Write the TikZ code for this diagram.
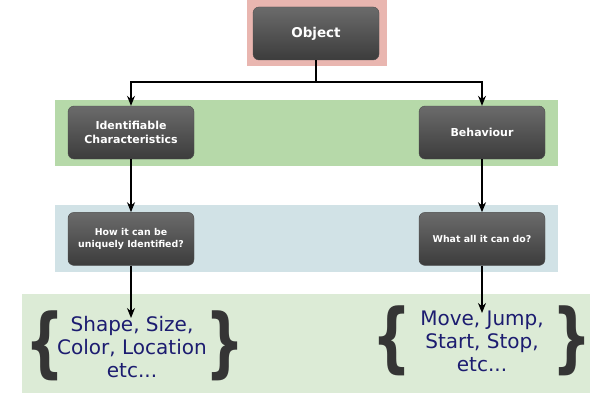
\documentclass[tikz,border=0pt]{standalone}
\usepackage{fontspec}
\setmainfont{DejaVu Sans}
\usetikzlibrary{positioning}
\usetikzlibrary{arrows.meta}

\definecolor{boxtop}{HTML}{6B6B6B}
\definecolor{boxbot}{HTML}{3C3C3C}
\definecolor{objband}{HTML}{E9B6B0}
\definecolor{chband}{HTML}{B6D9A9}
\definecolor{qband}{HTML}{D1E2E6}
\definecolor{listband}{HTML}{DCEBD6}
\definecolor{listtext}{HTML}{1C1C70}
\definecolor{bracecol}{HTML}{353535}

\tikzset{
  box/.style={rectangle,rounded corners=6pt,draw=gray!60!black,top color=boxtop,bottom color=boxbot,
    minimum width=126pt,minimum height=53pt,text=white,align=center,font=\bfseries\fontsize{11}{14}\selectfont},
  arr/.style={-{Stealth[length=10pt,width=8pt]},line width=1.2pt},
  list/.style={align=center,text=listtext,font=\fontsize{20}{23}\selectfont},
  brace/.style={inner sep=0pt,text=bracecol,font=\bfseries\fontsize{76}{76}\selectfont}
}

\begin{document}
\begin{tikzpicture}[x=1pt,y=-1pt]
\useasboundingbox (0,0) rectangle (600,404);
% bands
\fill[objband] (247,0) rectangle (387,66);
\fill[chband] (55,100) rectangle (558,166);
\fill[qband] (55,205) rectangle (558,272);
\fill[listband] (22,294) rectangle (590,393);

% boxes
\node[box,font=\bfseries\fontsize{13.5}{15}\selectfont] (obj) at (316,33.5) {Object};
\node[box] (ident) at (131,132.5) {Identifiable\\Characteristics};
\node[box] (behav) at (482,132.5) {Behaviour};
\node[box,below=53pt of ident,font=\bfseries\fontsize{9.4}{12.5}\selectfont] (how) {How it can be\\uniquely Identified?};
\node[box,below=53pt of behav,font=\bfseries\fontsize{9.4}{12.5}\selectfont] (what) {What all it can do?};

% lists
\node[list] (shapes) at (132,347) {Shape, Size,\\Color, Location\\etc...};
\node[list] (moves) at (482,341) {Move, Jump,\\Start, Stop,\\etc...};
\node[brace] (lb1) at (45,346) {\scalebox{0.72}[1]{\{}};
\node[brace] (rb1) at (225,346) {\scalebox{0.72}[1]{\}}};
\node[brace] (lb2) at (392,341) {\scalebox{0.72}[1]{\{}};
\node[brace] (rb2) at (572,341) {\scalebox{0.72}[1]{\}}};

% connectors
\coordinate (split) at (316,82);
\coordinate (lend) at (131,318);
\coordinate (rend) at (482,313);
\draw[line width=1.2pt] (obj) -- (split);
\draw[arr] (split) -| (ident.north);
\draw[arr] (split) -| (behav.north);
\draw[arr] (ident) -- (how);
\draw[arr] (behav) -- (what);
\draw[arr] (how) -- (lend);
\draw[arr] (what) -- (rend);

\end{tikzpicture}
\end{document}
